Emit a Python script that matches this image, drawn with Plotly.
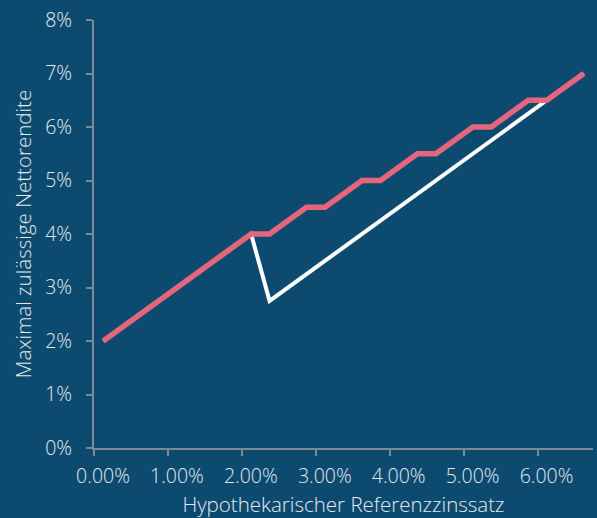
import plotly.graph_objects as go

# Hypothekarischer Referenzzinssatz in 0.25%-Schritten (Kategorien)
referenzzins = [0.00, 0.25, 0.50, 0.75, 1.00, 1.25, 1.50, 1.75, 2.00,
                2.25, 2.50, 2.75, 3.00, 3.25, 3.50, 3.75, 4.00, 4.25,
                4.50, 4.75, 5.00, 5.25, 5.50, 5.75, 6.00, 6.25, 6.50]

# Maximal zulässige Nettorendite (%) – gestufte Regel
rendite_stufen = [2.00, 2.25, 2.50, 2.75, 3.00, 3.25, 3.50, 3.75, 4.00,
                  4.00, 4.25, 4.50, 4.50, 4.75, 5.00, 5.00, 5.25, 5.50,
                  5.50, 5.75, 6.00, 6.00, 6.25, 6.50, 6.50, 6.75, 7.00]

# Maximal zulässige Nettorendite (%) – Referenzzins + 0.5% ab 2.25%
rendite_linear = [2.00, 2.25, 2.50, 2.75, 3.00, 3.25, 3.50, 3.75, 4.00,
                  2.75, 3.00, 3.25, 3.50, 3.75, 4.00, 4.25, 4.50, 4.75,
                  5.00, 5.25, 5.50, 5.75, 6.00, 6.25, 6.50, 6.75, 7.00]

x_ticks = [0, 1, 2, 3, 4, 5, 6]
x_ticktext = ["0.00%", "1.00%", "2.00%", "3.00%", "4.00%", "5.00%", "6.00%"]
y_ticks = [0, 1, 2, 3, 4, 5, 6, 7, 8]
y_ticktext = ["0%", "1%", "2%", "3%", "4%", "5%", "6%", "7%", "8%"]

STEP = 0.25
# each category is drawn at the centre of its 0.25% bin
x_pos = [r + STEP / 2 for r in referenzzins]

BG = "#0c4a70"
AXIS = "#7f8a92"
TEXT = "#e4eaee"
FONT = "'Open Sans', Lato, sans-serif"

fig = go.Figure()
fig.add_trace(go.Scatter(
    x=x_pos, y=rendite_linear, mode="lines",
    line=dict(color="#ffffff", width=4),
    hoverinfo="skip",
))
fig.add_trace(go.Scatter(
    x=x_pos, y=rendite_stufen, mode="lines",
    line=dict(color="#e5667c", width=5.5),
    hoverinfo="skip",
))

tick_font = dict(family=FONT, size=19.5, color=TEXT, weight=300)
title_font = dict(family=FONT, size=20.5, color=TEXT, weight=300)

fig.update_layout(
    width=597, height=518,
    paper_bgcolor=BG, plot_bgcolor=BG,
    margin=dict(l=94, r=4, t=20, b=67),
    showlegend=False,
    font=dict(family=FONT, color=TEXT, size=18),
)
fig.update_xaxes(
    range=[0, len(referenzzins) * STEP],
    tickvals=x_ticks, ticktext=x_ticktext,
    showgrid=False, zeroline=False,
    showline=True, linecolor=AXIS, linewidth=2,
    ticks="outside", tickcolor=AXIS, ticklen=6, tickwidth=2,
    tickfont=tick_font, ticklabelstandoff=4, ticklabelshift=9,
    title=dict(text="Hypothekarischer Referenzzinssatz", font=title_font, standoff=10),
)
fig.update_yaxes(
    range=[0, 8],
    tickvals=y_ticks, ticktext=y_ticktext,
    showgrid=False, zeroline=False,
    showline=True, linecolor=AXIS, linewidth=2,
    ticks="outside", tickcolor=AXIS, ticklen=6, tickwidth=2,
    tickfont=tick_font, ticklabelstandoff=10,
    title=dict(text="Maximal zulässige Nettorendite", font=title_font, standoff=8),
)

fig.write_html("out.html")
